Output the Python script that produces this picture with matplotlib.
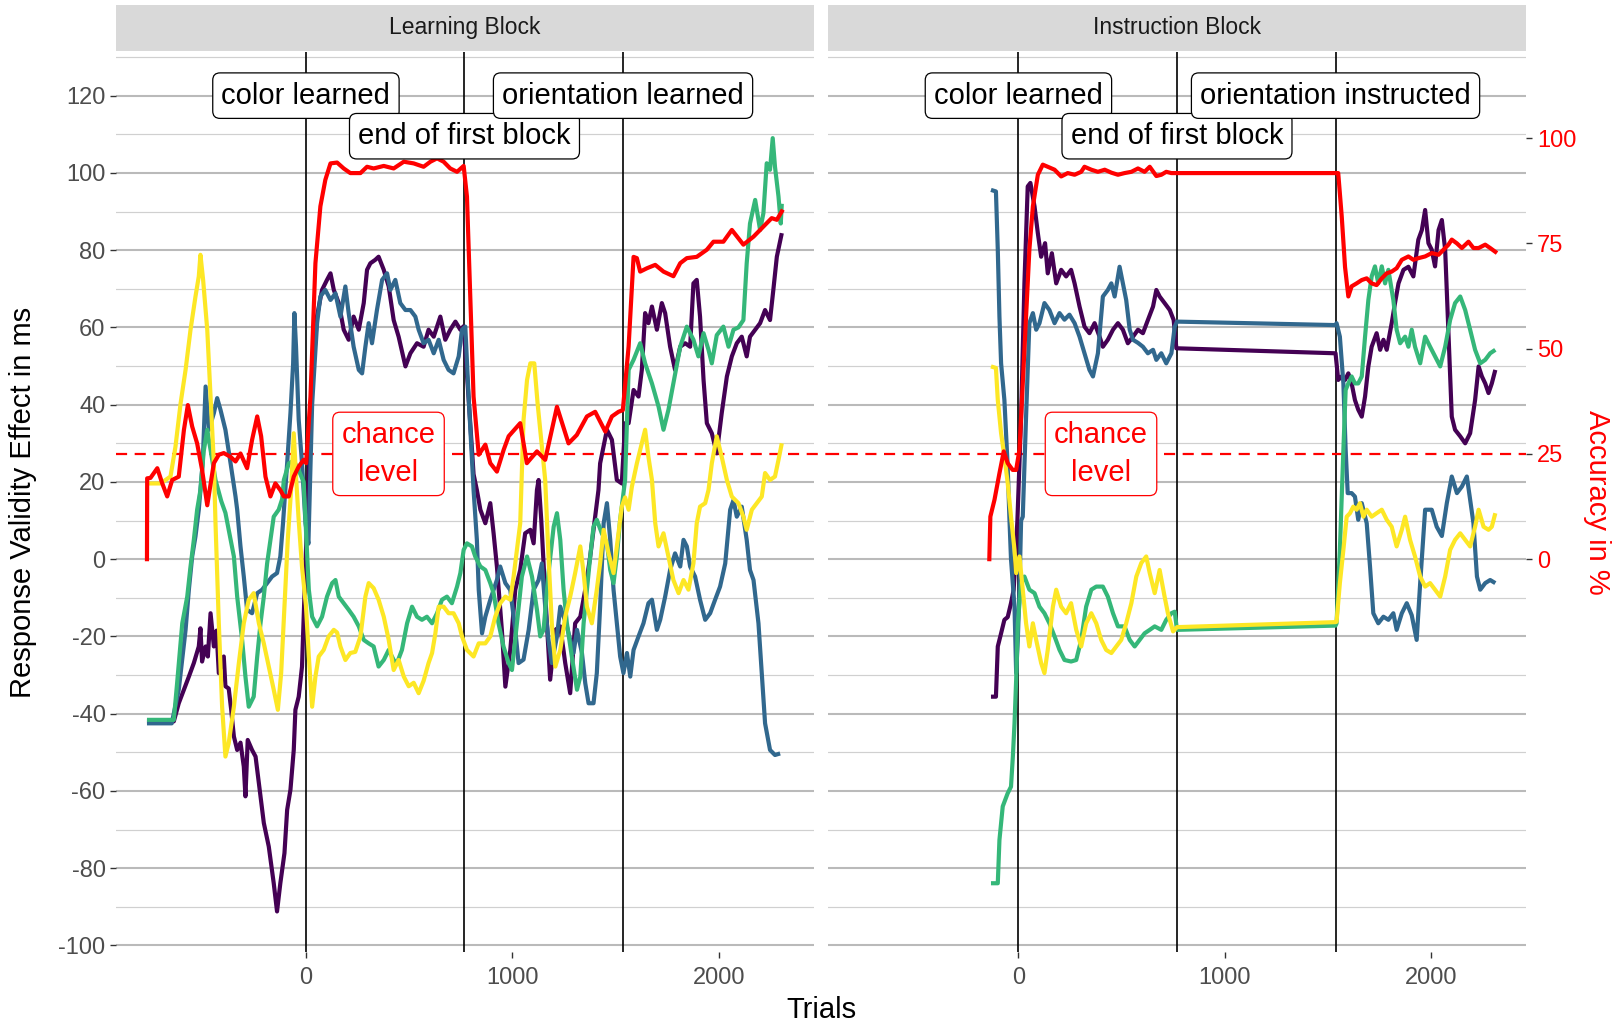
import matplotlib
matplotlib.use("Agg")
import matplotlib.pyplot as plt

plt.rcParams['font.family'] = ['Liberation Sans', 'DejaVu Sans']
plt.rcParams['axes.unicode_minus'] = False

W, H = 1624, 1024
ACC_SCALE = 1.09      # accuracy (%) -> response-validity scale used for the secondary axis
CHANCE = 25           # chance level accuracy in %

panel_titles = ["Learning Block", "Instruction Block"]
series_colors = ["#440154", "#31688E", "#35B779", "#FDE725"]
acc_color = "#FF0000"
phase_lines = [0, 768, 1536]
learning_labels = ["color learned", "end of first block", "orientation learned"]
instruction_labels = ["color learned", "end of first block", "orientation instructed"]
label_heights = [120, 109.5, 120]
chance_label_x = 400
y_ticks = [-100, -80, -60, -40, -20, 0, 20, 40, 60, 80, 100, 120]
x_ticks = [0, 1000, 2000]
acc_ticks = [0, 25, 50, 75, 100]

# ---------------- Learning block (trial, validity effect in ms) ----------------
learn_purple = [(-770, -42), (-640, -42), (-616, -37.3), (-591, -33.8), (-567, -30.4), (-543, -26.9),
    (-519, -22.6), (-511, -17.9), (-503, -26.5), (-486, -22.6), (-475, -25.2), (-462, -14), (-446, -22.6),
    (-433, -18.5), (-422, -29.5), (-398, -25.2), (-390, -32.9), (-374, -33.5), (-362, -39), (-349, -45.9),
    (-333, -49.4), (-317, -47.5), (-301, -53.7), (-293, -61.4), (-282, -46.8), (-261, -49.4), (-244, -51.1),
    (-228, -58), (-204, -68.3), (-180, -74.4), (-156, -83.9), (-140, -91.2), (-124, -83.9), (-104, -76.1),
    (-91, -64.9), (-75, -59.7), (-59, -49.4), (-51, -39), (-35, -35.6), (-19, -27.8), (-11, -14.9), (0, 2),
    (30, 45), (54, 63), (78, 69.7), (102, 72.3), (119, 74), (135, 69.7), (159, 66.3), (183, 59.4), (207, 56.8),
    (231, 62.8), (256, 59.4), (280, 66.3), (296, 74.9), (312, 76.6), (336, 77.5), (352, 78.3), (377, 74.9),
    (401, 70.6), (425, 61.9), (449, 57.6), (482, 49.9), (506, 53.3), (538, 55.9), (570, 55), (594, 59.4),
    (619, 57.6), (651, 62.8), (675, 56.8), (699, 59.4), (724, 61.5), (748, 59.4), (764, 60.3), (790, 40),
    (812, 22), (828, 17.9), (845, 12.8), (869, 9.3), (893, 14.5), (909, 6.7), (925, -1.9), (949, -18.3),
    (966, -33), (990, -23.5), (1014, -7.9), (1038, -2.8), (1062, 6.7), (1087, 7.6), (1103, 4.1), (1119, 17.9),
    (1127, 20.5), (1140, 10), (1160, -10), (1183, -31.2), (1208, -18.3), (1232, -17.4), (1256, -26.9),
    (1280, -34.7), (1304, -16.6), (1329, -14.9), (1353, -7.9), (1377, 0.7), (1401, 11), (1417, 17.9),
    (1425, 24.8), (1458, 33.5), (1482, 30.9), (1506, 20.5), (1530, 19.6), (1546, 35.2), (1563, 35.2),
    (1587, 43.8), (1611, 42.1), (1627, 49), (1643, 63.7), (1659, 61.1), (1676, 65.4), (1700, 59.4),
    (1724, 66.3), (1740, 63.7), (1764, 55), (1788, 49), (1813, 55), (1837, 55.9), (1861, 55), (1877, 71.4),
    (1893, 72.3), (1909, 62.8), (1926, 46.4), (1942, 35.2), (1966, 32.6), (1990, 27.4), (2014, 37.8),
    (2039, 47.3), (2063, 52.5), (2087, 55.9), (2111, 57.6), (2135, 52.5), (2151, 57.6), (2176, 59.4),
    (2200, 61.1), (2224, 64.5), (2248, 61.9), (2264, 69.7), (2281, 78.3), (2305, 84.4)]

learn_blue = [(-770, -42.5), (-650, -42.5), (-616, -33.8), (-583, -18.3), (-567, -7.9), (-551, 0.7),
    (-535, 5.9), (-519, 12.8), (-500, 25), (-486, 44.7), (-470, 33.5), (-446, 37.8), (-430, 41.7),
    (-414, 38.7), (-390, 33.5), (-365, 24.8), (-341, 16.2), (-333, 12.8), (-317, 3.3), (-301, -4.5),
    (-285, -13.1), (-261, -14), (-236, -8.8), (-212, -7.9), (-188, -6.2), (-164, -4.5), (-140, -3.6),
    (-124, 0.7), (-111, 9.3), (-91, 24.8), (-75, 37.8), (-62, 50.7), (-56, 63.7), (-48, 55), (-35, 36.1),
    (-19, 24.8), (-2, 9.3), (12, 4), (30, 40), (54, 61.1), (70, 68), (94, 69.7), (119, 67.1), (143, 68.8),
    (167, 62.8), (191, 70.6), (207, 63.7), (231, 55), (256, 49), (272, 48.1), (288, 55), (304, 61.1),
    (320, 55.9), (344, 64.5), (369, 72.3), (393, 74), (409, 69.7), (433, 72.3), (457, 66.3), (482, 64.5),
    (506, 64.5), (530, 62.8), (546, 59.4), (570, 55.9), (594, 56.8), (619, 53.3), (643, 56.8), (667, 51.6),
    (691, 49), (715, 48.1), (740, 52.5), (756, 59.4), (772, 60.2), (788, 42.1), (812, 17.9), (828, 5),
    (837, -7.9), (853, -19.2), (869, -14.9), (893, -10.5), (925, -5.4), (941, -1.9), (966, -6.2), (990, -8),
    (1014, -18.3), (1030, -26.9), (1054, -26), (1079, -18.3), (1103, -7.9), (1127, -5.4), (1143, -1.1),
    (1159, -12.3), (1175, -20.9), (1191, -26.9), (1216, -20), (1232, -12.3), (1264, -17.4), (1296, -24.3),
    (1313, -18.3), (1337, -24.3), (1353, -32.1), (1369, -37.3), (1393, -37.3), (1409, -29.5), (1425, -12.3),
    (1442, 9.3), (1458, 14.5), (1474, 5), (1490, -7.9), (1506, -16.6), (1522, -25.2), (1538, -29.5),
    (1555, -24.3), (1571, -30.4), (1587, -23.5), (1611, -20), (1635, -16.6), (1659, -11.4), (1676, -10.5),
    (1700, -18.3), (1716, -15.7), (1740, -9.7), (1764, -2.8), (1788, 1.5), (1813, -1.9), (1829, 5),
    (1845, 3.3), (1861, -1.9), (1885, -4.5), (1909, -10.5), (1934, -15.7), (1958, -14), (1982, -10.5),
    (2006, -7.1), (2031, -1.1), (2055, 12.8), (2071, 15.3), (2087, 11), (2111, 13.6), (2135, 5),
    (2151, -2.8), (2168, -5.4), (2192, -16.6), (2208, -29.5), (2224, -42.5), (2248, -49.4), (2272, -50.7),
    (2297, -50.3)]

learn_green = [(-770, -41.6), (-640, -41.6), (-624, -32.1), (-599, -16.6), (-575, -9.7), (-559, -1.9),
    (-543, 5), (-527, 12.8), (-511, 17.9), (-495, 28), (-478, 33.5), (-462, 28.3), (-438, 20.5),
    (-410, 15), (-390, 12), (-374, 7.6), (-349, 0.7), (-333, -9.7), (-309, -20.9), (-293, -30.4),
    (-277, -38.2), (-253, -35.6), (-236, -25.2), (-220, -16.6), (-204, -9.7), (-188, -1.1), (-172, 5),
    (-156, 11), (-132, 12.8), (-115, 15.6), (-107, 20.5), (-83, 24.8), (-59, 25.5), (-35, 23), (-11, 20),
    (14, -7.9), (30, -14.9), (54, -17.4), (78, -14.9), (102, -9.7), (127, -6.2), (143, -5.4), (159, -9.7),
    (183, -11.4), (207, -13.1), (231, -14.9), (256, -17.4), (280, -20.9), (304, -21.8), (328, -22.6),
    (352, -27.8), (377, -26.1), (401, -23.5), (425, -26.1), (441, -26.9), (465, -23.5), (490, -16.6),
    (514, -12.3), (538, -14.9), (562, -15.7), (586, -14.9), (611, -16.6), (635, -14), (659, -10.5),
    (683, -9.7), (707, -11.4), (732, -7.1), (748, -3.6), (764, 2.4), (780, 4.1), (804, 3.3), (820, 0.7),
    (845, -1.9), (869, -2.8), (893, -6.2), (909, -8.8), (933, -16.6), (957, -22.6), (982, -26.9),
    (998, -28.7), (1022, -16.6), (1046, -4.5), (1071, 0.7), (1095, -4.5), (1119, -13.1), (1135, -20),
    (1151, -18.3), (1175, -3.6), (1200, 8.4), (1216, 11.9), (1232, 5), (1248, -7.9), (1264, -16.6),
    (1288, -25.2), (1313, -33.8), (1329, -30.4), (1345, -16.6), (1361, -7.9), (1377, 0.7), (1393, 8.4),
    (1409, 10.2), (1433, 6.7), (1458, 4.1), (1474, -2.8), (1490, -6.2), (1506, 0.7), (1522, 10.2),
    (1546, 20.5), (1563, 49), (1587, 51.6), (1619, 55.9), (1643, 50.7), (1676, 45.5), (1708, 39.5),
    (1732, 33.5), (1756, 38.7), (1780, 45.5), (1813, 55), (1845, 60.2), (1877, 56.8), (1901, 52.5),
    (1926, 58.5), (1950, 54.2), (1966, 50.7), (1990, 58), (2022, 60.2), (2047, 55), (2071, 59.4),
    (2095, 60), (2119, 61.9), (2135, 76.6), (2151, 86.9), (2176, 93), (2200, 85.2), (2216, 89.6),
    (2232, 102.5), (2248, 100.8), (2261, 109), (2272, 101.6), (2289, 93.9), (2300, 86.9), (2305, 92)]

learn_yellow = [(-770, 19.6), (-704, 19.6), (-656, 21.4), (-632, 29.1), (-607, 40.4), (-583, 49),
    (-559, 59.4), (-535, 68), (-519, 73.2), (-511, 78.8), (-498, 72.3), (-478, 59.4), (-462, 42.1),
    (-446, 24.8), (-438, 9.3), (-422, -16.6), (-406, -38.2), (-390, -51.1), (-374, -47.6), (-349, -38.2),
    (-325, -26.9), (-301, -16.6), (-277, -10.5), (-253, -8.8), (-228, -16.6), (-204, -21.8), (-180, -27.8),
    (-156, -33.8), (-136, -39), (-120, -29.5), (-104, -12.3), (-88, 5), (-72, 17.9), (-59, 32.6),
    (-48, 21.4), (-35, 10), (-19, -2), (0, -12), (14, -25.2), (30, -38.2), (46, -30.4), (62, -25.2),
    (86, -23.5), (110, -20), (135, -18.3), (151, -19), (167, -22.6), (191, -26.1), (215, -24.3),
    (239, -24), (264, -20), (288, -9.7), (304, -6.2), (328, -7.5), (352, -10.5), (377, -14.9),
    (401, -20.9), (425, -28.7), (449, -26.1), (474, -30.4), (498, -32.9), (522, -32), (546, -34.7),
    (570, -31.5), (594, -26.9), (611, -24.3), (627, -19.2), (643, -12.3), (667, -12.3), (691, -14),
    (715, -14), (740, -16.6), (756, -20), (780, -23.5), (812, -25.2), (837, -21.8), (869, -21.8),
    (893, -20), (917, -14.9), (941, -11.4), (966, -9.7), (990, -10.5), (1006, -4.5), (1022, 2.4),
    (1038, 9.3), (1054, 36), (1071, 46.4), (1087, 50.7), (1106, 50.7), (1122, 40.4), (1143, 29.1),
    (1159, 20.5), (1175, 0.7), (1191, -16.6), (1208, -27.8), (1232, -23.5), (1256, -14.9), (1280, -9.7),
    (1304, -3.6), (1329, 3.3), (1345, -3.6), (1361, -12.3), (1385, -16.6), (1409, -7.9), (1425, -1.1),
    (1442, 7.6), (1466, 1.5), (1490, -3.6), (1514, 6.7), (1530, 13.6), (1546, 16), (1563, 12.8),
    (1579, 18.8), (1603, 24.8), (1627, 30), (1643, 33.5), (1659, 26.5), (1676, 20.5), (1692, 9.3),
    (1708, 3.3), (1732, 6.7), (1756, 0.7), (1780, -5.4), (1805, -8.8), (1829, -5.4), (1853, -7.9),
    (1877, -1.1), (1893, 9.3), (1909, 13.6), (1934, 14.5), (1950, 17.9), (1966, 24.8), (1990, 31.8),
    (2014, 26.5), (2039, 20.5), (2063, 16.2), (2095, 14.5), (2119, 11), (2135, 7.6), (2160, 12.8),
    (2184, 14.5), (2208, 16.2), (2224, 22.3), (2248, 20.5), (2272, 21.4), (2289, 25.7), (2305, 30)]

# accuracy in %
learn_acc = [(-770, 0), (-769, 19.2), (-753, 19.3), (-720, 21.6), (-696, 18), (-672, 14.9), (-648, 18.8),
    (-616, 19.6), (-591, 30.7), (-572, 36.6), (-551, 31.5), (-527, 27.5), (-503, 21.2), (-478, 12.8),
    (-446, 22.8), (-422, 24.8), (-398, 25.2), (-365, 24.3), (-341, 23.2), (-317, 25.1), (-285, 21.6),
    (-261, 28.3), (-236, 33.9), (-217, 29.2), (-196, 19.6), (-172, 14.9), (-148, 18), (-124, 16.4),
    (-107, 14.9), (-83, 14.9), (-59, 19.6), (-35, 22), (-11, 23.6), (1, 22.8), (22, 38.6), (46, 70.3),
    (70, 83.8), (94, 90.1), (119, 94), (151, 94.2), (183, 92.8), (215, 91.7), (264, 91.7), (296, 93.2),
    (328, 92.8), (377, 93.4), (425, 92.8), (474, 94.4), (522, 94), (570, 93.2), (603, 94.4), (635, 95.2),
    (667, 94.4), (699, 92.8), (732, 92), (764, 93.4), (780, 86.1), (796, 62.4), (812, 38.6), (837, 24.8),
    (869, 27.2), (893, 22.8), (925, 20.8), (958, 26), (982, 29.2), (1038, 32.3), (1070, 22.8),
    (1119, 25.6), (1159, 23.6), (1216, 36.2), (1272, 27.5), (1312, 29.5), (1361, 33.9), (1401, 35),
    (1450, 30.3), (1482, 33.9), (1514, 35), (1535, 35.4), (1563, 50.5), (1587, 71.8), (1603, 71.5),
    (1619, 68.3), (1652, 69.1), (1692, 69.9), (1732, 68.3), (1780, 67.2), (1813, 70.3), (1845, 71.5),
    (1893, 71.8), (1942, 73.5), (1974, 75.4), (2022, 75.4), (2063, 78.2), (2119, 74.7), (2168, 76.6),
    (2216, 79), (2256, 81), (2281, 80.6), (2305, 82.6)]

# ---------------- Instruction block ----------------
instr_purple = [(-133, -35.6), (-109, -35.6), (-100, -22.6), (-84, -19.2), (-68, -15.7), (-52, -15),
    (-36, -11.4), (-23, -7.9), (-5, 10), (13, 36.9), (29, 71.4), (45, 96.5), (58, 97.4), (78, 91.3),
    (94, 84.4), (110, 78.3), (129, 81.8), (142, 74), (162, 79.2), (183, 71.4), (207, 74.9), (231, 73.2),
    (255, 74.9), (272, 71.4), (296, 65.4), (320, 60.2), (344, 58.5), (369, 61.1), (393, 57.6), (409, 55),
    (433, 56.8), (458, 59.4), (482, 61.1), (506, 59.4), (530, 55.9), (555, 57.6), (579, 59.4), (603, 58.5),
    (627, 61.9), (652, 65.4), (668, 69.7), (684, 68), (708, 66.3), (733, 64.5), (752, 61.9), (765, 54.6),
    (1536, 53.3), (1549, 46.4), (1565, 47.3), (1582, 46.4), (1598, 48.1), (1614, 45.5), (1630, 41.2),
    (1646, 38.7), (1663, 36.9), (1679, 42.1), (1695, 49.9), (1711, 55), (1735, 58.5), (1752, 54.2),
    (1768, 56.8), (1784, 54.2), (1808, 61.1), (1824, 66.3), (1841, 71.4), (1865, 74.9), (1889, 75.7),
    (1913, 73.2), (1937, 82.7), (1954, 85.2), (1970, 90.4), (1986, 81.8), (2002, 80.1), (2018, 75.8),
    (2035, 85.2), (2051, 87.8), (2067, 80.1), (2083, 58.5), (2099, 36.9), (2115, 33.5), (2140, 31.8),
    (2164, 30), (2188, 32.6), (2212, 41.2), (2229, 49.9), (2245, 47.3), (2261, 45.5), (2277, 43),
    (2293, 45.5), (2310, 49)]

instr_blue = [(-133, 95.6), (-109, 95.2), (-100, 80.1), (-92, 62.8), (-84, 50.7), (-68, 41.2), (-52, 24),
    (-44, 11), (-36, 0), (-19, -12.3), (-11, -29.5), (-3, -20.9), (5, -7.9), (13, 10), (21, 11),
    (37, 36.9), (53, 61.1), (70, 63.7), (86, 59.4), (102, 61.1), (126, 66.3), (150, 64.5), (175, 61.1),
    (199, 63.7), (223, 62), (247, 63.3), (272, 61.1), (296, 57.6), (320, 53.3), (344, 49), (361, 47.3),
    (385, 53.3), (409, 68), (433, 69.7), (450, 71.4), (466, 68), (490, 75.7), (506, 71.4), (522, 67.1),
    (539, 59.4), (555, 56.8), (579, 56), (603, 55), (627, 53.3), (652, 54.2), (668, 51.6), (692, 53.3),
    (716, 50.7), (741, 53.3), (757, 60.2), (768, 61.5), (1536, 60.6), (1541, 61.1), (1557, 57.6),
    (1574, 45.5), (1585, 28.3), (1595, 17.1), (1614, 17.1), (1630, 16.2), (1646, 10.2), (1663, 14.5),
    (1687, 9.3), (1703, -1.9), (1719, -14), (1743, -16.6), (1768, -14.9), (1792, -15.7), (1816, -14),
    (1832, -18.3), (1857, -14), (1881, -11.4), (1905, -14.5), (1929, -20.9), (1946, -6.2), (1970, 12.8),
    (2002, 12.8), (2026, 8.4), (2051, 6), (2075, 14.5), (2099, 21.4), (2124, 17.1), (2148, 18.8),
    (2172, 21.4), (2188, 15.4), (2204, 9.3), (2221, -4.5), (2237, -7.9), (2261, -6.2), (2285, -5.4),
    (2310, -6.2)]

instr_green = [(-133, -83.9), (-100, -83.9), (-92, -72.7), (-76, -64), (-52, -60.6), (-36, -58.9),
    (-27, -51.1), (-19, -42.5), (-11, -31.2), (-3, -16.6), (13, -6.2), (29, -4.5), (53, -7.9), (78, -8.8),
    (102, -12.3), (126, -14), (150, -16.6), (175, -20), (199, -23.5), (223, -26.1), (255, -26.5),
    (280, -26.1), (304, -20.9), (328, -12.3), (353, -7.9), (377, -7.1), (409, -7.1), (433, -9.7),
    (458, -14), (482, -17.4), (514, -17.4), (539, -20.9), (563, -22.6), (587, -20.9), (611, -19.2),
    (636, -18.3), (660, -17.4), (692, -18.3), (716, -15.7), (741, -14), (757, -13.6), (768, -18.3),
    (1536, -17.2), (1541, -16.6), (1557, 2.4), (1574, 28.3), (1585, 43.8), (1598, 45.5), (1614, 47.3),
    (1630, 45.5), (1646, 45.5), (1663, 47.3), (1679, 57.6), (1695, 67.1), (1711, 73.2), (1727, 75.8),
    (1743, 71.4), (1760, 75.8), (1776, 71.4), (1792, 74.9), (1816, 67.1), (1832, 59.4), (1849, 55.9),
    (1873, 57.6), (1889, 55), (1905, 59.4), (1921, 55), (1946, 50.7), (1970, 57.6), (1994, 55),
    (2018, 52.5), (2043, 49.9), (2067, 55), (2091, 61.9), (2115, 66.3), (2140, 68), (2164, 64.5),
    (2188, 59.4), (2212, 54.2), (2237, 50.7), (2261, 51.6), (2285, 53.3), (2310, 54.2)]

instr_yellow = [(-133, 49.9), (-109, 49.5), (-100, 41.2), (-84, 32.6), (-68, 26.6), (-52, 19.7),
    (-36, 11), (-19, 2.4), (-11, -3.6), (5, 0.7), (21, -7.9), (37, -16.6), (53, -22.6), (70, -16.6),
    (86, -20.9), (110, -26.9), (126, -29.5), (142, -23.5), (167, -12.3), (183, -7.9), (207, -12.3),
    (231, -14), (255, -11.4), (280, -18.3), (304, -22.6), (328, -16.6), (353, -14), (377, -16.6),
    (401, -20.9), (425, -23.5), (450, -24.3), (474, -22.6), (498, -20.9), (522, -16.6), (547, -11.4),
    (571, -4.5), (595, -1), (619, 0.7), (636, -3.6), (660, -8.8), (684, -2.8), (708, -9.7), (724, -14),
    (749, -18.7), (768, -17.6), (1536, -16.3), (1541, -16.2), (1557, -6.2), (1574, 2.4), (1590, 11),
    (1606, 11.9), (1622, 13.6), (1638, 12.8), (1654, 14.5), (1671, 11), (1687, 12.8), (1711, 11),
    (1735, 11.9), (1760, 12.8), (1784, 10.2), (1808, 8.4), (1832, 3.3), (1857, 7.6), (1873, 11),
    (1897, 5), (1921, 0.7), (1946, -4.5), (1970, -7.1), (1994, -6.2), (2018, -7.9), (2043, -9.7),
    (2067, -4.5), (2091, 2.4), (2115, 5), (2140, 6.7), (2164, 5), (2188, 3.3), (2212, 8.4), (2229, 12.8),
    (2253, 8.4), (2277, 7.6), (2293, 8.4), (2310, 11.9)]

instr_acc = [(-141, 0), (-136, 10.1), (-116, 14.1), (-92, 20.4), (-71, 25.6), (-52, 22.8), (-28, 21.2),
    (-11, 21.2), (5, 26), (21, 41.7), (37, 57.6), (53, 73.5), (70, 83.8), (94, 91.3), (118, 93.7),
    (142, 93.2), (175, 92.5), (207, 90.9), (239, 91.7), (272, 91.3), (304, 92), (320, 93.2), (353, 92.5),
    (385, 92), (418, 92.5), (450, 91.8), (482, 91.3), (514, 91.7), (547, 92), (579, 92.8), (611, 92),
    (636, 93.2), (668, 91), (692, 91.3), (716, 92), (741, 91.7), (765, 91.7), (1536, 91.7), (1549, 91.7),
    (1566, 81.4), (1582, 69.4), (1598, 62.4), (1614, 64.8), (1638, 65.5), (1663, 66.3), (1687, 66.7),
    (1711, 65.5), (1735, 65.1), (1760, 66.7), (1784, 67.9), (1808, 68.3), (1832, 69.1), (1857, 71.1),
    (1889, 71.9), (1913, 71.1), (1938, 71.5), (1970, 71.9), (2002, 72.7), (2035, 72.3), (2059, 73.5),
    (2083, 74.7), (2099, 75.9), (2124, 75), (2148, 73.9), (2180, 75.4), (2204, 73.9), (2229, 73.9),
    (2261, 74.7), (2285, 73.9), (2310, 73)]

learning_series = [learn_purple, learn_blue, learn_green, learn_yellow]
instruction_series = [instr_purple, instr_blue, instr_green, instr_yellow]

# ---------------- layout ----------------
def px_rect(l, t, r, b):
    return [l / W, 1 - b / H, (r - l) / W, (b - t) / H]

fig = plt.figure(figsize=(W / 100, H / 100), dpi=100)
fig.patch.set_facecolor("white")

panel_px = [(116, 52, 814, 952), (828.5, 52, 1526.5, 952)]
strip_px = [(116, 5, 814, 50.5), (828.5, 5, 1526.5, 50.5)]
XLIM = (-920, 2461)
YLIM = (-101.7, 131.3)
gap_frac = (panel_px[1][0] - panel_px[0][2]) / (panel_px[0][2] - panel_px[0][0])

all_series = [learning_series, instruction_series]
all_acc = [learn_acc, instr_acc]
all_labels = [learning_labels, instruction_labels]
LW = 3.0

for i in range(2):
    ax = fig.add_axes(px_rect(*panel_px[i]))
    ax.set_xlim(*XLIM)
    ax.set_ylim(*YLIM)
    for s in ax.spines.values():
        s.set_visible(False)
    ax.set_facecolor("white")

    # grid (horizontal only)
    for v in range(-100, 121, 20):
        ax.axhline(v, color="#bababa", lw=1.5, zorder=0)
    for v in range(-90, 131, 20):
        ax.axhline(v, color="#d0d0d0", lw=0.85, zorder=0)

    # phase lines
    for x in phase_lines:
        ax.axvline(x, color="black", lw=1.2, zorder=1.5)

    # chance line
    if i == 0:
        ax.axhline(CHANCE * ACC_SCALE, xmin=0, xmax=1 + gap_frac, clip_on=False,
                   color=acc_color, lw=1.6, ls=(0, (5, 3.4)), zorder=1.6)
    else:
        ax.axhline(CHANCE * ACC_SCALE, color=acc_color, lw=1.6, ls=(0, (5, 3.4)), zorder=1.6)

    # RT series
    for data, col in zip(all_series[i], series_colors):
        xs, ys = zip(*data)
        ax.plot(xs, ys, color=col, lw=LW, solid_joinstyle="round", solid_capstyle="butt", zorder=2)
    # accuracy
    xs, ps = zip(*all_acc[i])
    ax.plot(xs, [p * ACC_SCALE for p in ps], color=acc_color, lw=LW,
            solid_joinstyle="round", zorder=3)

    # phase labels
    for x, y, lab in zip(phase_lines, label_heights, all_labels[i]):
        ax.text(x, y, lab, ha="center", va="center", fontsize=21, color="black", zorder=6,
                bbox=dict(boxstyle="round,pad=0.3,rounding_size=0.25", fc="white",
                          ec="black", lw=0.9))
    ax.text(chance_label_x, CHANCE * ACC_SCALE, "chance\nlevel", ha="center", va="center",
            fontsize=21, color=acc_color, linespacing=1.45, zorder=6,
            bbox=dict(boxstyle="round,pad=0.3,rounding_size=0.25", fc="white",
                      ec=acc_color, lw=0.9))

    # x axis
    ax.set_xticks(x_ticks)
    ax.set_xticklabels([str(t) for t in x_ticks])
    ax.tick_params(axis="x", length=4.5, width=1, color="#333333", labelsize=17,
                   labelcolor="#4d4d4d", pad=6)

    if i == 0:
        ax.set_yticks(y_ticks)
        ax.set_yticklabels([str(t) for t in y_ticks])
        ax.tick_params(axis="y", length=4.5, width=1, color="#333333", labelsize=17,
                       labelcolor="#4d4d4d", pad=3)
    else:
        ax.yaxis.tick_right()
        ax.set_yticks([p * ACC_SCALE for p in acc_ticks])
        ax.set_yticklabels([str(p) for p in acc_ticks])
        ax.tick_params(axis="y", length=4.5, width=1, color="#333333", labelsize=17,
                       labelcolor=acc_color, pad=3)

    # facet strip
    sax = fig.add_axes(px_rect(*strip_px[i]))
    sax.set_facecolor("#d9d9d9")
    sax.set_xticks([])
    sax.set_yticks([])
    for s in sax.spines.values():
        s.set_visible(False)
    sax.text(0.5, 0.5, panel_titles[i], ha="center", va="center", fontsize=16.5,
             color="#1a1a1a", transform=sax.transAxes)

# axis titles
fig.text(23 / W, 1 - 502 / H, "Response Validity Effect in ms", rotation=90, ha="center",
         va="center", fontsize=21, color="black")
fig.text(821 / W, 1 - 1010 / H, "Trials", ha="center", va="center", fontsize=21, color="black")
fig.text(1597 / W, 1 - 502 / H, "Accuracy in %", rotation=270, ha="center", va="center",
         fontsize=21, color=acc_color)

fig.savefig("out.png", dpi=100, facecolor="white")
